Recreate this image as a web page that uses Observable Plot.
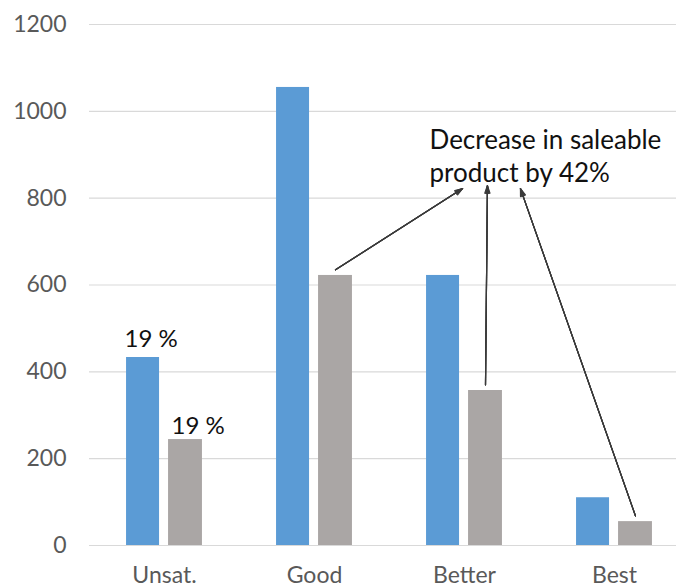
<!DOCTYPE html>
<html>
<head>
<meta charset="utf-8">
<script src="https://cdn.jsdelivr.net/npm/d3@7"></script>
<script src="https://cdn.jsdelivr.net/npm/@observablehq/plot@0.6"></script>
<style>
  html, body { margin: 0; padding: 0; background: #fff; }
</style>
</head>
<body>
<div id="chart"></div>
<script>
// ---- data ----
const categories = ["Unsat.", "Good", "Better", "Best"];
const beforeValues = [433, 1055, 622, 110];   // blue series
const afterValues  = [244, 622, 357, 55];     // gray series
const shareLabels  = ["19 %", "19 %"];        // labels on Unsat. bars (before, after)
const yTicks = [0, 200, 400, 600, 800, 1000, 1200];
const noteLines = ["Decrease in saleable", "product by 42%"];
const arrowFrom = ["Good", "Better", "Best"]; // arrows start at the gray bar of these
const arrowTipX = [2.487, 2.653, 2.873];      // arrow tips under the note (category units)
const arrowTipY = [822, 829, 822];

// ---- derived tables ----
const idx = c => categories.indexOf(c);
const blue = categories.map((c, i) => ({cat: c, value: beforeValues[i]}));
const gray = categories.map((c, i) => ({cat: c, value: afterValues[i]}));
const arrows = arrowFrom.map((c, i) => ({
  x1: idx(c) + 0.64, y1: afterValues[idx(c)] + 13,
  x2: arrowTipX[i], y2: arrowTipY[i]
}));

const B1 = 0.247, B2 = 0.467, G1 = 0.527, G2 = 0.753;

const arrowHeads = [8, 18, 28, 38].map(a =>
  Plot.arrow(arrows, {x1: "x1", y1: "y1", x2: "x2", y2: "y2",
    stroke: "#3a3a3a", strokeWidth: 1.2, headLength: 10, headAngle: a})
);

const chart = Plot.plot({
  width: 676,
  height: 587,
  marginLeft: 89,
  marginRight: 0,
  marginTop: 24,
  marginBottom: 42,
  style: {fontFamily: "Lato", fontSize: "23px", color: "#595959", background: "#fff"},
  x: {
    domain: [0, 4],
    range: [89, 689],
    ticks: categories.map((c, i) => i + 0.5),
    tickFormat: v => categories[Math.round(v - 0.5)],
    tickSize: 0,
    tickPadding: 21,
    label: null
  },
  y: {
    domain: [0, 1200],
    ticks: yTicks,
    tickFormat: d => String(d),
    tickSize: 0,
    tickPadding: 23,
    label: null
  },
  marks: [
    Plot.ruleY(yTicks, {stroke: "#d9d9d9", strokeWidth: 1.2}),
    Plot.rectY(blue, {x1: d => idx(d.cat) + B1, x2: d => idx(d.cat) + B2, y1: 0, y2: "value", fill: "#5b9bd5"}),
    Plot.rectY(gray, {x1: d => idx(d.cat) + G1, x2: d => idx(d.cat) + G2, y1: 0, y2: "value", fill: "#aaa6a5"}),
    Plot.text([blue[0]], {x: d => idx(d.cat) + B1, y: "value", text: () => shareLabels[0],
      textAnchor: "start", lineAnchor: "bottom", dy: -11, dx: -2, fontSize: 24, fill: "#111"}),
    Plot.text([gray[0]], {x: d => idx(d.cat) + G1, y: "value", text: () => shareLabels[1],
      textAnchor: "start", lineAnchor: "bottom", dy: -6, dx: 3, fontSize: 24, fill: "#111"}),
    Plot.text([noteLines.join("\n")], {x: 2.267, y: 967, text: d => d,
      textAnchor: "start", lineAnchor: "top", fontSize: 26, lineHeight: 1.27, fill: "#111"}),
    ...arrowHeads
  ]
});

document.getElementById("chart").appendChild(chart);
</script>
</body>
</html>
